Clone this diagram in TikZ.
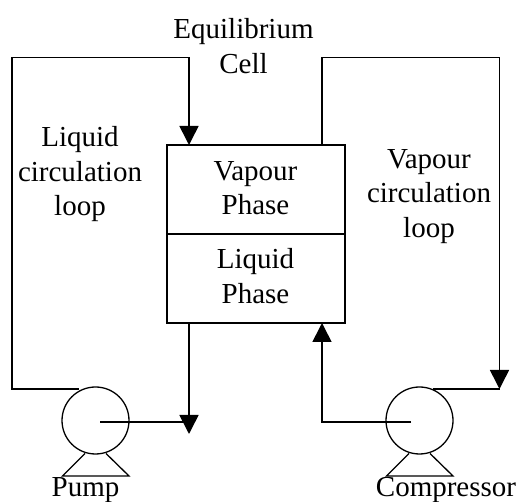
\documentclass[tikz,border=0pt]{standalone}
\usepackage{fontspec}
\setmainfont{Liberation Serif}
\usetikzlibrary{arrows.meta}
\tikzset{
  px/.style={x=1pt,y=-1pt},
  pipe/.style={line width=1.6pt,line join=miter,black},
  thin pipe/.style={line width=1.3pt},
  flow/.style={pipe,-{Triangle[length=19pt,width=19pt]}},
  lbl/.style={align=center,inner sep=0pt,font=\fontsize{29}{34.5}\selectfont},
}
\begin{document}
\begin{tikzpicture}[px]
\useasboundingbox (0,0) rectangle (520,502);
% equilibrium cell
\node[draw,pipe,minimum width=178pt,minimum height=178pt,inner sep=0pt] (cell) at (256,234) {};
\draw[pipe] (cell.west) -- (cell.east);
\coordinate (cellInL) at (189,145);
\coordinate (cellOutR) at (322,145);
\coordinate (cellBotL) at (189,323);
\coordinate (cellBotR) at (322,323);
% pump
\node[draw,thin pipe,circle,minimum size=67pt,inner sep=0pt] (pump) at (95.5,420.5) {};
\draw[thin pipe,line join=miter] (85,453.5) -- (62.5,476) -- (129,476) -- (106,453.5);
% compressor
\node[draw,thin pipe,circle,minimum size=67pt,inner sep=0pt] (comp) at (419.5,420.5) {};
\draw[thin pipe,line join=miter] (409,453.5) -- (386.5,476) -- (453,476) -- (430,453.5);
% coordinates
\coordinate (pumpTop) at (79,389);
\coordinate (pumpC) at (100,422);
\coordinate (compTop) at (433,389);
\coordinate (compC) at (411,422);
\coordinate (pumpDrop) at (189,422);
\coordinate (tipL) at (189,434);
\coordinate (tipR) at (499.5,389);
% connectors
\draw[flow] (pumpTop) -- (12,389) -- (12,57.5) -- (189,57.5) -- (cellInL);
\draw[pipe] (pumpC) -- (pumpDrop);
\draw[flow] (cellBotL) -- (tipL);
\draw[flow] (cellOutR) -- (322,57.5) -- (499.5,57.5) -- (tipR);
\draw[pipe] (compTop) -- (tipR);
\draw[flow] (compC) -- (322,422) -- (cellBotR);
% labels
\node[lbl] (title) at (243.5,46) {Equilibrium\\Cell};
\node[lbl] (lloop) at (80,174.5) {Liquid\\circulation\\loop};
\node[lbl] (vloop) at (429,196.5) {Vapour\\circulation\\loop};
\node[lbl] (vap) at (255.5,188) {Vapour\\Phase};
\node[lbl] (liq) at (255.5,276) {Liquid\\Phase};
\node[lbl] (pl) at (85.5,490) {Pump};
\node[lbl] (cl) at (446,490) {Compressor};
\end{tikzpicture}
\end{document}
